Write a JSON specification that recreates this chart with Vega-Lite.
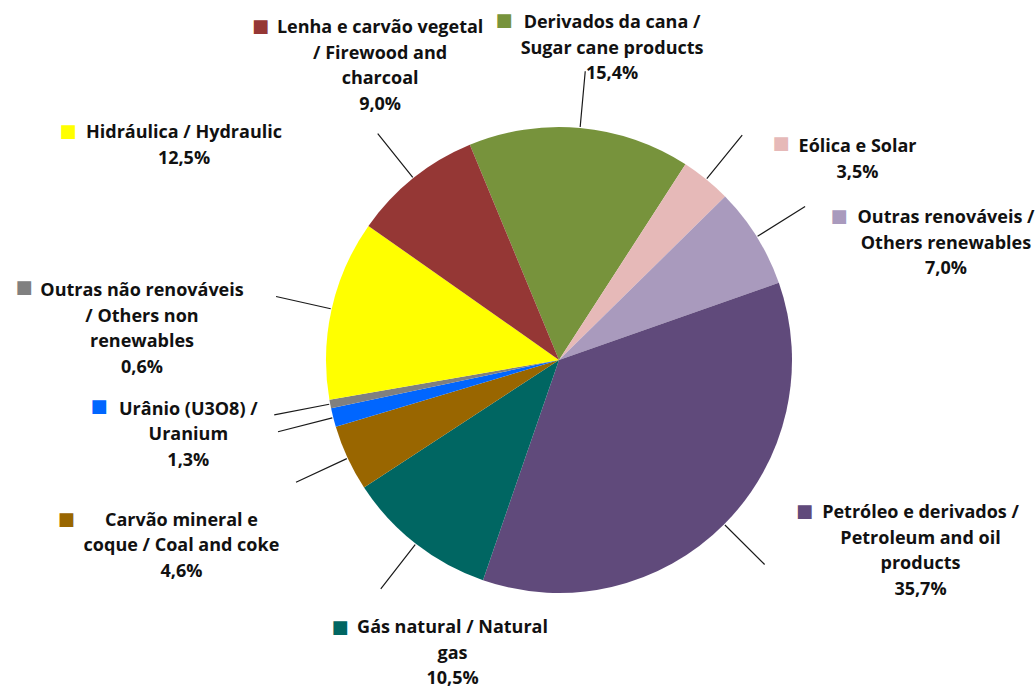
{
  "$schema": "https://vega.github.io/schema/vega-lite/v6.json",
  "width": 952,
  "height": 660,
  "autosize": {"type": "none"},
  "padding": {"left": 83, "top": 30, "right": 0, "bottom": 0},
  "background": "white",
  "config": {"view": {"stroke": null}},
  "data": {
    "values": [
      {"key": "Derivados da cana", "value": 15.4, "label": ["Derivados da cana /", "Sugar cane products", "15,4%"]},
      {"key": "Eólica e Solar", "value": 3.5, "label": ["Eólica e Solar", "3,5%"]},
      {"key": "Outras renováveis", "value": 7.0, "label": ["Outras renováveis /", "Others renewables", "7,0%"]},
      {"key": "Petróleo e derivados", "value": 35.7, "label": ["Petróleo e derivados /", "Petroleum and oil", "products", "35,7%"]},
      {"key": "Gás natural", "value": 10.5, "label": ["Gás natural / Natural", "gas", "10,5%"]},
      {"key": "Carvão mineral e coque", "value": 4.6, "label": ["Carvão mineral e", "coque / Coal and coke", "4,6%"]},
      {"key": "Urânio (U3O8)", "value": 1.3, "label": ["Urânio (U3O8) /", "Uranium", "1,3%"]},
      {"key": "Outras não renováveis", "value": 0.6, "label": ["Outras não renováveis", "/ Others non", "renewables", "0,6%"]},
      {"key": "Hidráulica", "value": 12.5, "label": ["Hidráulica  / Hydraulic", "12,5%"]},
      {"key": "Lenha e carvão vegetal", "value": 9.0, "label": ["Lenha e carvão vegetal", "/ Firewood and", "charcoal", "9,0%"]}
    ]
  },
  "transform": [{"window": [{"op": "row_number", "as": "idx"}]}],
  "encoding": {
    "theta": {"field": "value", "type": "quantitative", "stack": true, "scale": {"range": [-0.3927, 5.8905]}},
    "order": {"field": "idx", "type": "quantitative"},
    "detail": {"field": "key", "type": "nominal"}
  },
  "layer": [
    {
      "mark": {"type": "arc", "outerRadius": 233},
      "encoding": {
        "color": {
          "field": "key", "type": "nominal", "legend": null,
          "scale": {
            "domain": ["Derivados da cana", "Eólica e Solar", "Outras renováveis", "Petróleo e derivados", "Gás natural", "Carvão mineral e coque", "Urânio (U3O8)", "Outras não renováveis", "Hidráulica", "Lenha e carvão vegetal"],
            "range": ["#77933C", "#E6B9B8", "#A99ABD", "#604A7B", "#006662", "#996600", "#0066FF", "#808080", "#FFFF00", "#953735"]
          }
        }
      }
    },
    {
      "mark": {"type": "arc", "outerRadius": 290, "innerRadius": 234, "padAngle": 3.1, "filled": false, "stroke": "#1a1a1a", "strokeWidth": 1.2}
    },
    {
      "mark": {
        "type": "text", "radius": 300, "align": "center", "baseline": "alphabetic",
        "font": "Open Sans", "fontWeight": "bold", "fontSize": 18, "lineHeight": 25.5, "color": "#111111",
        "dx": {"expr": "[25.9, 109, 132.4, 148.8, 77.9, -105.5, -80, -122.4, -82.3, 8.6][datum.idx - 1]"},
        "dy": {"expr": "[-32.9, 24.6, 22, -53.3, 36.7, 39.5, -19.2, -120.7, -156, -92.6][datum.idx - 1]"}
      },
      "encoding": {"text": {"field": "label", "type": "nominal"}}
    },
    {
      "mark": {
        "type": "text", "radius": 300, "text": "■", "align": "center", "baseline": "middle",
        "font": "DejaVu Sans", "fontSize": 18,
        "dx": {"expr": "[-82.1, 32.5, 25.4, 32.8, -34.6, -220.7, -169.3, -240.4, -198.3, -110.9][datum.idx - 1]"},
        "dy": {"expr": "[-40.2, 16.6, 16.2, -59.1, 31.7, 33.5, -26.7, -129.2, -161.8, -98.9][datum.idx - 1]"}
      },
      "encoding": {"color": {"field": "key", "type": "nominal", "legend": null}}
    }
  ]
}
